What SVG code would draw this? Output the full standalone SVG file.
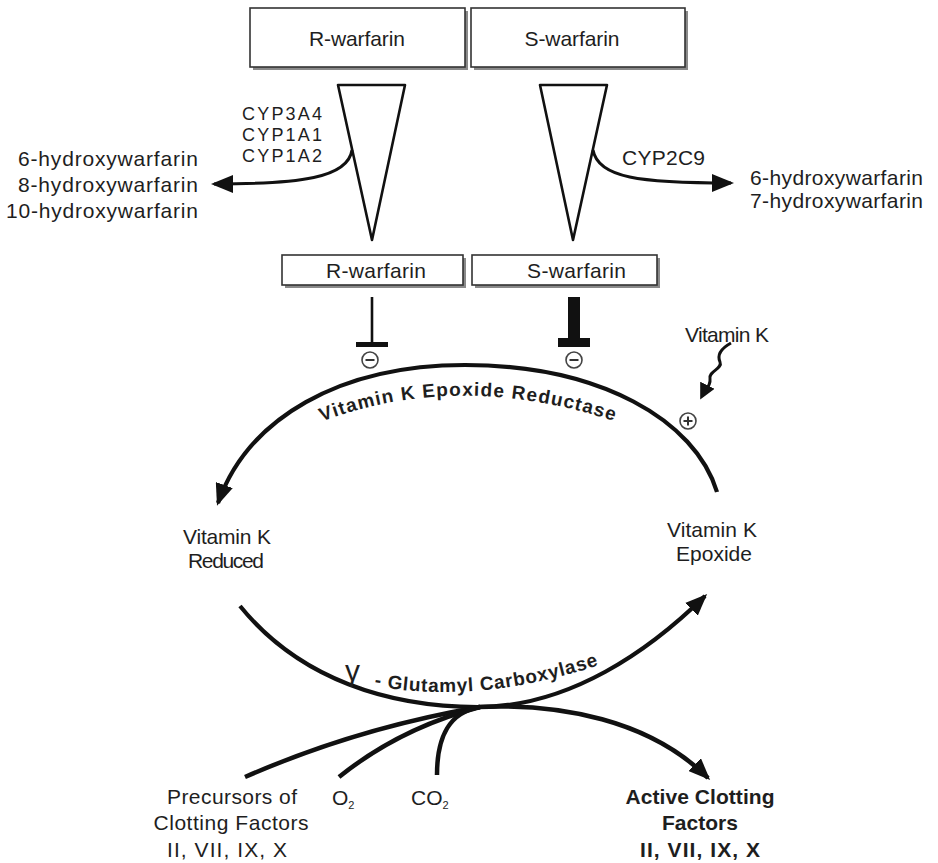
<svg xmlns="http://www.w3.org/2000/svg" width="938" height="863" viewBox="0 0 938 863">
<style>
text{font-family:"Liberation Sans",Arial,sans-serif;fill:#1e1e1e;}
.t{font-size:21px;}
.cyp{font-size:18px;}
.tb{font-size:19px;font-weight:bold;}
.box{fill:#fff;stroke:#333;stroke-width:1.6;}
.shadow{fill:#8a8a8a;}
.tri{fill:#fff;stroke:#111;stroke-width:2.6;stroke-linejoin:round;}
.ln{fill:none;stroke:#111;stroke-width:3;}
.arc{fill:none;stroke:#111;stroke-width:4.2;}
.thick{fill:none;stroke:#111;stroke-width:4.5;stroke-linecap:butt;}
.sign{fill:#fff;stroke:#444;stroke-width:1.6;}
.signl{stroke:#333;stroke-width:2;}
</style>
<defs>
<marker id="ah" markerUnits="userSpaceOnUse" markerWidth="22" markerHeight="18" refX="19" refY="9" orient="auto"><path d="M0,0 L22,9 L0,18 Z" fill="#111"/></marker>
<marker id="ahs" markerUnits="userSpaceOnUse" markerWidth="16" markerHeight="16" refX="12" refY="8" orient="auto"><path d="M0,0 L16,8 L0,16 Z" fill="#111"/></marker>
<path id="p1" d="M318,423 Q465,366 634,428"/>
<path id="p2" d="M370,685 Q482,707 614,660"/>
</defs>

<g id="r-warfarin-top">
<rect class="shadow" x="253" y="11" width="215" height="59"/>
<rect class="box" x="250" y="8" width="215" height="59"/>
<text class="t" x="357" y="46" text-anchor="middle" textLength="96">R-warfarin</text>
</g>
<g id="s-warfarin-top">
<rect class="shadow" x="474" y="11" width="214" height="59"/>
<rect class="box" x="471" y="8" width="214" height="59"/>
<text class="t" x="572" y="46" text-anchor="middle" textLength="95">S-warfarin</text>
</g>

<g id="r-triangle"><polygon class="tri" points="338,85 405,85 372,240"/></g>
<g id="s-triangle"><polygon class="tri" points="540,85 607,85 573,240"/></g>

<g id="r-cyp">
<text class="cyp" x="322" y="120" text-anchor="end" textLength="80">CYP3A4</text>
<text class="cyp" x="322" y="141" text-anchor="end" textLength="80">CYP1A1</text>
<text class="cyp" x="322" y="162" text-anchor="end" textLength="80">CYP1A2</text>
</g>
<g id="r-metabolites">
<text class="t" x="198" y="166" text-anchor="end" textLength="180">6-hydroxywarfarin</text>
<text class="t" x="198" y="192" text-anchor="end" textLength="180">8-hydroxywarfarin</text>
<text class="t" x="198" y="218" text-anchor="end" textLength="192">10-hydroxywarfarin</text>
</g>
<g id="s-cyp">
<text class="t" x="622" y="165" textLength="83">CYP2C9</text>
</g>
<g id="s-metabolites">
<text class="t" x="750" y="185" textLength="173">6-hydroxywarfarin</text>
<text class="t" x="750" y="208" textLength="173">7-hydroxywarfarin</text>
</g>

<g id="r-warfarin-mid">
<rect class="shadow" x="285" y="258" width="181" height="30"/>
<rect class="box" x="282" y="255" width="181" height="30"/>
<text class="t" x="326" y="278" font-size="19" textLength="100">R-warfarin</text>
</g>
<g id="s-warfarin-mid">
<rect class="shadow" x="475" y="258" width="185" height="30"/>
<rect class="box" x="472" y="255" width="185" height="30"/>
<text class="t" x="527" y="278" font-size="19" textLength="99">S-warfarin</text>
</g>

<g id="r-inhibit">
<line x1="372" y1="297" x2="372" y2="343" stroke="#111" stroke-width="2.6"/>
<rect x="356" y="342" width="32" height="5" fill="#111"/>
<circle class="sign" cx="370" cy="360" r="8"/>
<line class="signl" x1="365.5" y1="360" x2="374.5" y2="360"/>
</g>
<g id="s-inhibit">
<rect x="568" y="297" width="12" height="42" fill="#111"/>
<rect x="558" y="338" width="32" height="9" fill="#111"/>
<circle class="sign" cx="574" cy="360" r="8"/>
<line class="signl" x1="569.5" y1="360" x2="578.5" y2="360"/>
</g>

<g id="vitamin-k">
<text class="t" x="685" y="342" font-size="20" textLength="84">Vitamin K</text>
<circle class="sign" cx="688" cy="421" r="8"/>
<line class="signl" x1="683.5" y1="421" x2="692.5" y2="421"/>
<line class="signl" x1="688" y1="416.5" x2="688" y2="425.5"/>
</g>

<g id="vitamin-k-reduced">
<text class="t" x="227" y="544" text-anchor="middle" font-size="20" textLength="88">Vitamin K</text>
<text class="t" x="226" y="568" text-anchor="middle" font-size="20" textLength="76">Reduced</text>
</g>
<g id="vitamin-k-epoxide">
<text class="t" x="712" y="537" text-anchor="middle" font-size="20" textLength="90">Vitamin K</text>
<text class="t" x="714" y="561" text-anchor="middle" font-size="20" textLength="76">Epoxide</text>
</g>

<g id="precursors">
<text class="t" x="232" y="804" text-anchor="middle" font-size="20" textLength="130">Precursors of</text>
<text class="t" x="231" y="830" text-anchor="middle" font-size="20" textLength="155">Clotting Factors</text>
<text class="t" x="227" y="857" text-anchor="middle" font-size="20" textLength="120">II, VII, IX, X</text>
</g>
<g id="o2"><text class="t" x="332" y="805" font-size="20">O<tspan font-size="11" dy="4">2</tspan></text></g>
<g id="co2"><text class="t" x="411" y="805" font-size="20">CO<tspan font-size="11" dy="4">2</tspan></text></g>
<g id="active-factors">
<text class="t" x="700" y="804" text-anchor="middle" font-size="20" font-weight="bold" textLength="149">Active Clotting</text>
<text class="t" x="700" y="830" text-anchor="middle" font-size="20" font-weight="bold" textLength="76">Factors</text>
<text class="t" x="700" y="857" text-anchor="middle" font-size="20" font-weight="bold" textLength="120">II, VII, IX, X</text>
</g>

<g id="connectors">
<path class="ln" d="M352,150 C348,178 300,184 214,184" marker-end="url(#ah)"/>
<path class="ln" d="M593,150 C598,178 640,183 731,183" marker-end="url(#ah)"/>
<path class="arc" d="M717,492 C695,420 600,365 465,365 C340,365 248,418 218,503" marker-end="url(#ah)"/>
<path d="M731,343 C720,349 717,355 720,362 C723,369 708,371 710,379 C711,386 705,390 702,396" fill="none" stroke="#111" stroke-width="3" marker-end="url(#ahs)"/>
<path class="arc" d="M240,606 C300,680 390,707 478,707 C570,707 650,650 705,596" marker-end="url(#ah)"/>
<path class="thick" d="M245,777 Q357,728 480,707"/>
<path class="thick" d="M339,777 Q400,728 480,707"/>
<path class="thick" d="M437,775 C437,735 450,712 480,707"/>
<path class="thick" d="M478,707 C560,703 650,720 708,778" marker-end="url(#ah)"/>
</g>

<g id="reductase-label">
<text class="tb"><textPath href="#p1" startOffset="4" textLength="298">Vitamin K Epoxide Reductase</textPath></text>
</g>
<g id="carboxylase-label">
<text x="345" y="681" font-family="Liberation Serif,serif" font-size="30" fill="#1e1e1e">γ</text>
<text class="tb" font-size="18"><textPath href="#p2" startOffset="4" textLength="228">- Glutamyl Carboxylase</textPath></text>
</g>
</svg>
